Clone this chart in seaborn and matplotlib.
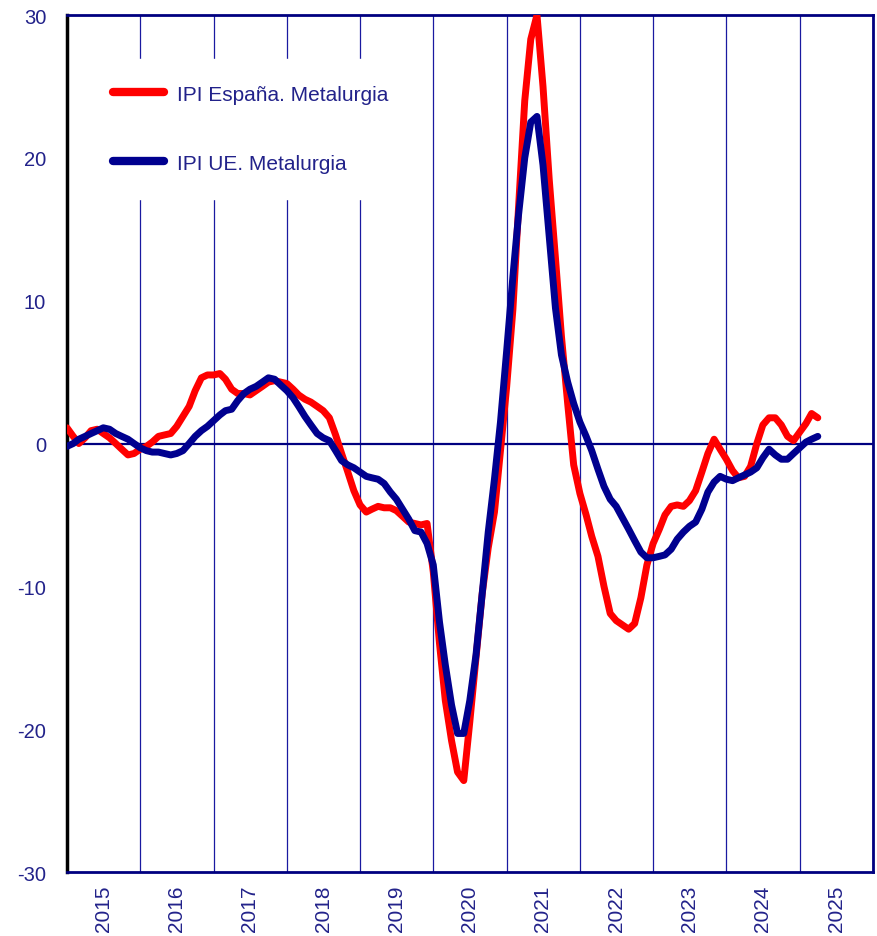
import matplotlib
matplotlib.use("Agg")
import matplotlib.pyplot as plt
import matplotlib.dates as mdates
import matplotlib.ticker as mticker
import seaborn as sns
import pandas as pd
from datetime import datetime

# IPI metalurgia, tasas de variacion (media movil), mensual desde ene-2015
spain = [1.1, 0.5, 0.0, 0.4, 0.9, 1.0, 0.7, 0.4, 0.0, -0.4, -0.8, -0.7,
         -0.4, -0.2, 0.1, 0.5, 0.6, 0.7, 1.2, 1.9, 2.6, 3.7, 4.6, 4.8,
         4.8, 4.9, 4.5, 3.8, 3.5, 3.5, 3.4, 3.7, 4.0, 4.3, 4.4, 4.3,
         4.2, 3.8, 3.4, 3.1, 2.9, 2.6, 2.3, 1.8, 0.6, -0.7, -2.0, -3.3,
         -4.3, -4.8, -4.6, -4.4, -4.5, -4.5, -4.7, -5.1, -5.5, -5.6, -5.7, -5.6,
         -9.0, -14.0, -18.0, -20.8, -23.0, -23.6, -19.5, -15.0, -10.5, -7.3, -4.8, -0.5,
         4.0, 9.4, 16.5, 24.0, 28.3, 30.0, 25.0, 18.5, 13.0, 7.5, 2.8, -1.5,
         -3.5, -5.0, -6.5, -7.9, -10.0, -11.9, -12.4, -12.7, -13.0, -12.6, -10.8, -8.5,
         -7.0, -6.0, -5.0, -4.4, -4.3, -4.4, -4.0, -3.3, -2.0, -0.7, 0.3, -0.4,
         -1.1, -1.9, -2.4, -2.3, -1.6, 0.0, 1.3, 1.8, 1.8, 1.3, 0.5, 0.2,
         0.8, 1.4, 2.1, 1.8]

eu = [-0.2, 0.0, 0.3, 0.5, 0.7, 0.9, 1.1, 1.0, 0.7, 0.5, 0.3, 0.0,
      -0.3, -0.5, -0.6, -0.6, -0.7, -0.8, -0.7, -0.5, 0.0, 0.5, 0.9, 1.2,
      1.6, 2.0, 2.3, 2.4, 3.0, 3.5, 3.8, 4.0, 4.3, 4.6, 4.5, 4.1,
      3.7, 3.2, 2.6, 1.9, 1.3, 0.7, 0.4, 0.2, -0.5, -1.2, -1.5, -1.7,
      -2.0, -2.3, -2.4, -2.5, -2.8, -3.4, -3.9, -4.6, -5.3, -6.1, -6.2, -7.0,
      -8.5, -12.5, -15.5, -18.3, -20.3, -20.3, -18.0, -14.8, -10.5, -6.2, -2.5, 1.5,
      6.5, 11.7, 16.0, 20.0, 22.5, 22.9, 19.5, 14.5, 9.5, 6.2, 4.3, 2.8,
      1.5, 0.5, -0.5, -1.8, -3.0, -3.9, -4.4, -5.2, -6.0, -6.8, -7.6, -8.0,
      -8.0, -7.9, -7.8, -7.4, -6.7, -6.2, -5.8, -5.5, -4.6, -3.4, -2.7, -2.3,
      -2.5, -2.6, -2.4, -2.2, -2.0, -1.7, -1.0, -0.4, -0.8, -1.1, -1.1, -0.7,
      -0.3, 0.1, 0.3, 0.5]

series_names = ["IPI España. Metalurgia", "IPI UE. Metalurgia"]
months = pd.date_range("2015-01-01", periods=len(spain), freq="MS")

df = pd.concat([
    pd.DataFrame({"fecha": months, "valor": spain, "serie": series_names[0]}),
    pd.DataFrame({"fecha": months, "valor": eu, "serie": series_names[1]}),
])

navy = "#000080"
txt = "#22228a"

sns.set_style("white")
plt.rcParams["font.family"] = ["Liberation Sans", "DejaVu Sans"]
plt.rcParams["axes.unicode_minus"] = False

fig = plt.figure(figsize=(8.77, 9.37), dpi=100)
ax = fig.add_axes([0.0764, 0.0683, 0.9190, 0.9146])

ax.axhline(0, color=navy, lw=1.6, zorder=1.5)

sns.lineplot(data=df, x="fecha", y="valor", hue="serie", hue_order=series_names,
             palette={series_names[0]: "#ff0000", series_names[1]: "#00008f"},
             linewidth=5, solid_capstyle="round", solid_joinstyle="round",
             ax=ax, zorder=3)

ax.set_xlim(datetime(2015, 1, 1), datetime(2026, 1, 1))
ax.set_ylim(-30, 30)
ax.set_yticks(range(-30, 31, 10))
ax.set_xlabel("")
ax.set_ylabel("")

# year boundaries as grid, year labels in the middle of each year
ax.xaxis.set_major_locator(mdates.YearLocator())
ax.xaxis.set_major_formatter(mticker.NullFormatter())
ax.xaxis.set_minor_locator(mdates.MonthLocator(bymonth=7, bymonthday=1))
ax.xaxis.set_minor_formatter(mdates.DateFormatter("%Y"))
ax.grid(axis="x", which="major", color="#1a1aa0", lw=0.9)
ax.grid(axis="y", visible=False)
ax.tick_params(axis="x", which="both", length=0, pad=9, labelsize=15,
               labelcolor=txt, labelrotation=90)
ax.tick_params(axis="y", length=6, width=2, color="black", direction="out",
               pad=9, labelsize=14.5, labelcolor=txt)

for side in ["top", "right", "bottom"]:
    ax.spines[side].set_color(navy)
    ax.spines[side].set_linewidth(2)
ax.spines["left"].set_color("black")
ax.spines["left"].set_linewidth(2.5)

handles, labels = ax.get_legend_handles_labels()
leg = ax.legend(handles, labels, loc="upper left", bbox_to_anchor=(0.0248, 0.949),
                borderaxespad=0, borderpad=1.25, frameon=True, framealpha=1,
                facecolor="white", edgecolor="white", fontsize=15,
                handlelength=2.45, handletextpad=0.6, labelspacing=2.4)
for line in leg.get_lines():
    line.set_linewidth(6)
    line.set_solid_capstyle("round")
for t in leg.get_texts():
    t.set_color(txt)
leg.set_zorder(4)

fig.savefig("out.png", dpi=100)
